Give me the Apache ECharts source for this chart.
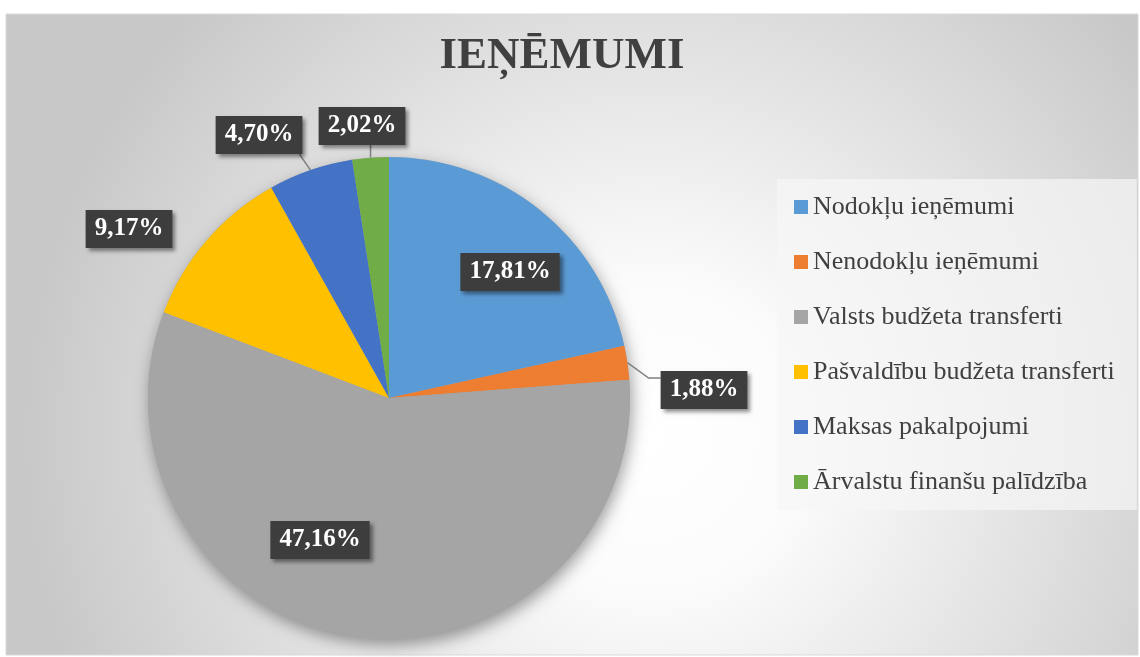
<!DOCTYPE html>
<html>
<head>
<meta charset="utf-8">
<script src="https://cdn.jsdelivr.net/npm/echarts@6/dist/echarts.min.js"></script>
<style>
  html, body { margin: 0; padding: 0; background: #fff; }
  #chart { width: 1140px; height: 657px; }
</style>
</head>
<body>
<div id="chart"></div>
<script>
// ieņēmumu struktūra (%)
var categories = [
  "Nodokļu ieņēmumi",
  "Nenodokļu ieņēmumi",
  "Valsts budžeta transferti",
  "Pašvaldību budžeta transferti",
  "Maksas pakalpojumi",
  "Ārvalstu finanšu palīdzība"
];
var shares = [17.81, 1.88, 47.16, 9.17, 4.70, 2.02];
var colors = ["#5b9bd5", "#ed7d31", "#a5a5a5", "#ffc000", "#4472c4", "#70ad47"];

// kur novietot datu etiķetes (centrs) un kāda forma vadlīnijai
var labelSpots = [[510, 272], [704, 390], [320, 540], [129, 229], [259, 135], [362, 126]];
var lineKind = [null, "elbow", null, null, "corner", "straight"];

var total = shares.reduce(function (a, b) { return a + b; }, 0);
var center = [389, 398];
var radius = 241;

var myChart = echarts.init(document.getElementById("chart"));

var pieData = categories.map(function (name, i) {
  return {
    name: name,
    value: shares[i],
    itemStyle: { color: colors[i] },
    labelLine: { show: lineKind[i] != null }
  };
});

var option = {
  animation: false,
  graphic: [{
    type: "rect",
    z: -10,
    shape: { x: 6, y: 14, width: 1132, height: 641 },
    style: {
      fill: {
        type: "radial", x: 0.57, y: 0.66, r: 0.98,
        colorStops: [
          { offset: 0, color: "#ffffff" },
          { offset: 0.25, color: "#fbfbfb" },
          { offset: 1, color: "#c8c8c8" }
        ]
      },
      stroke: "#d9d9d9",
      lineWidth: 1
    }
  }],
  title: {
    text: "IEŅĒMUMI",
    left: 557,
    top: 29,
    textAlign: "center",
    textStyle: {
      fontFamily: "Liberation Serif",
      fontWeight: "bold",
      fontSize: 45,
      color: "#404040"
    }
  },
  legend: {
    orient: "vertical",
    left: 777,
    top: 179,
    padding: [13, 22, 13, 17],
    backgroundColor: "rgba(246,246,246,0.7)",
    icon: "rect",
    itemWidth: 14,
    itemHeight: 14,
    itemGap: 25,
    selectedMode: false,
    data: categories,
    textStyle: {
      fontFamily: "Liberation Serif",
      fontSize: 26,
      lineHeight: 30,
      color: "#404040"
    }
  },
  series: [
    {
      // ēna zem pīrāga
      type: "pie",
      silent: true,
      z: 1,
      center: center,
      radius: radius,
      data: [{ name: "", value: total }],
      label: { show: false },
      labelLine: { show: false },
      itemStyle: {
        color: "#a5a5a5",
        shadowBlur: 16,
        shadowOffsetX: 2,
        shadowOffsetY: 6,
        shadowColor: "rgba(0,0,0,0.38)"
      }
    },
    {
      type: "pie",
      z: 2,
      center: center,
      radius: radius,
      startAngle: 90,
      clockwise: true,
      data: pieData,
      itemStyle: { borderWidth: 0 },
      label: {
        show: true,
        position: "outside",
        formatter: function (p) {
          return p.value.toFixed(2).replace(".", ",") + "%";
        },
        fontFamily: "Liberation Serif",
        fontWeight: "bold",
        fontSize: 25,
        color: "#ffffff",
        backgroundColor: "#3d3d3d",
        padding: [7, 9, 6, 9],
        shadowBlur: 4,
        shadowOffsetX: 3,
        shadowOffsetY: 3,
        shadowColor: "rgba(0,0,0,0.45)"
      },
      labelLine: {
        length: 10,
        length2: 10,
        lineStyle: { color: "#7f7f7f", width: 1.5 }
      },
      labelLayout: function (params) {
        var i = params.dataIndex;
        var s = labelSpots[i];
        var out = { x: s[0], y: s[1], align: "center", verticalAlign: "middle" };
        var kind = lineKind[i];
        var pts = params.labelLinePoints;
        if (kind && pts) {
          var w = params.labelRect.width, h = params.labelRect.height;
          var bx = s[0] - w / 2, by = s[1] - h / 2;
          var p0 = pts[0];
          if (kind === "elbow") {
            out.labelLinePoints = [p0, [bx - 12, by + 7], [bx, by + 7]];
          } else if (kind === "corner") {
            out.labelLinePoints = [p0, [(p0[0] + bx + w - 3) / 2, (p0[1] + by + h) / 2], [bx + w - 3, by + h]];
          } else {
            out.labelLinePoints = [p0, [p0[0], (p0[1] + by + h) / 2], [p0[0], by + h]];
          }
        }
        return out;
      },
      emphasis: { disabled: true }
    }
  ]
};

myChart.setOption(option);
</script>
</body>
</html>
